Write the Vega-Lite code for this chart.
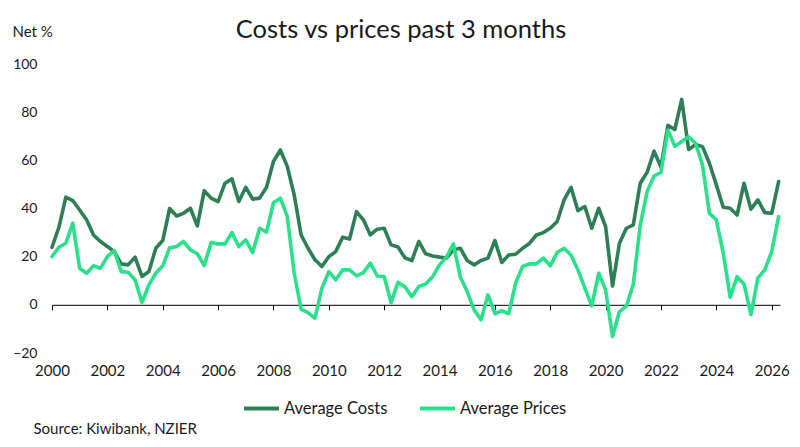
{
  "$schema": "https://vega.github.io/schema/vega-lite/v6.json",
  "width": 728,
  "height": 289,
  "autosize": {"type": "none"},
  "padding": {"left": 52, "top": 64, "right": 20, "bottom": 94},
  "background": "white",
  "config": {"view": {"stroke": null}, "font": "Lato", "axis": {"grid": false}},
  "title": {"text": "Costs vs prices past 3 months", "fontSize": 25.5, "fontWeight": "normal", "color": "#1a1a1a", "anchor": "middle", "dx": -15, "dy": 41, "offset": 22, "font": "Lato"},
  "data": {"values": [
    {"t": 2000.00, "Average Costs": 23.9, "Average Prices": 20.0},
    {"t": 2000.25, "Average Costs": 32.2, "Average Prices": 23.9},
    {"t": 2000.50, "Average Costs": 44.7, "Average Prices": 25.6},
    {"t": 2000.75, "Average Costs": 43.3, "Average Prices": 33.9},
    {"t": 2001.00, "Average Costs": 39.4, "Average Prices": 15.2},
    {"t": 2001.25, "Average Costs": 35.3, "Average Prices": 13.1},
    {"t": 2001.50, "Average Costs": 29.0, "Average Prices": 16.2},
    {"t": 2001.75, "Average Costs": 26.3, "Average Prices": 15.2},
    {"t": 2002.00, "Average Costs": 24.2, "Average Prices": 20.0},
    {"t": 2002.25, "Average Costs": 22.1, "Average Prices": 22.5},
    {"t": 2002.50, "Average Costs": 17.0, "Average Prices": 13.8},
    {"t": 2002.75, "Average Costs": 16.6, "Average Prices": 13.5},
    {"t": 2003.00, "Average Costs": 19.8, "Average Prices": 10.4},
    {"t": 2003.25, "Average Costs": 11.8, "Average Prices": 1.0},
    {"t": 2003.50, "Average Costs": 13.8, "Average Prices": 8.3},
    {"t": 2003.75, "Average Costs": 23.5, "Average Prices": 13.1},
    {"t": 2004.00, "Average Costs": 26.7, "Average Prices": 16.2},
    {"t": 2004.25, "Average Costs": 40.0, "Average Prices": 23.7},
    {"t": 2004.50, "Average Costs": 36.9, "Average Prices": 24.2},
    {"t": 2004.75, "Average Costs": 38.0, "Average Prices": 26.3},
    {"t": 2005.00, "Average Costs": 40.1, "Average Prices": 22.8},
    {"t": 2005.25, "Average Costs": 32.8, "Average Prices": 21.2},
    {"t": 2005.50, "Average Costs": 47.4, "Average Prices": 16.3},
    {"t": 2005.75, "Average Costs": 44.3, "Average Prices": 25.9},
    {"t": 2006.00, "Average Costs": 42.9, "Average Prices": 25.3},
    {"t": 2006.25, "Average Costs": 50.5, "Average Prices": 25.3},
    {"t": 2006.50, "Average Costs": 52.3, "Average Prices": 30.0},
    {"t": 2006.75, "Average Costs": 42.9, "Average Prices": 24.2},
    {"t": 2007.00, "Average Costs": 48.8, "Average Prices": 27.0},
    {"t": 2007.25, "Average Costs": 43.9, "Average Prices": 21.7},
    {"t": 2007.50, "Average Costs": 44.3, "Average Prices": 31.8},
    {"t": 2007.75, "Average Costs": 48.8, "Average Prices": 30.2},
    {"t": 2008.00, "Average Costs": 59.5, "Average Prices": 42.4},
    {"t": 2008.25, "Average Costs": 64.3, "Average Prices": 44.3},
    {"t": 2008.50, "Average Costs": 57.5, "Average Prices": 36.6},
    {"t": 2008.75, "Average Costs": 45.6, "Average Prices": 13.1},
    {"t": 2009.00, "Average Costs": 29.0, "Average Prices": -1.8},
    {"t": 2009.25, "Average Costs": 23.5, "Average Prices": -3.2},
    {"t": 2009.50, "Average Costs": 18.7, "Average Prices": -5.5},
    {"t": 2009.75, "Average Costs": 15.9, "Average Prices": 6.9},
    {"t": 2010.00, "Average Costs": 20.0, "Average Prices": 13.8},
    {"t": 2010.25, "Average Costs": 22.1, "Average Prices": 10.4},
    {"t": 2010.50, "Average Costs": 28.1, "Average Prices": 14.5},
    {"t": 2010.75, "Average Costs": 27.3, "Average Prices": 14.5},
    {"t": 2011.00, "Average Costs": 38.7, "Average Prices": 12.0},
    {"t": 2011.25, "Average Costs": 35.3, "Average Prices": 13.4},
    {"t": 2011.50, "Average Costs": 29.0, "Average Prices": 17.3},
    {"t": 2011.75, "Average Costs": 31.4, "Average Prices": 12.0},
    {"t": 2012.00, "Average Costs": 31.8, "Average Prices": 11.7},
    {"t": 2012.25, "Average Costs": 24.9, "Average Prices": 1.0},
    {"t": 2012.50, "Average Costs": 24.0, "Average Prices": 9.3},
    {"t": 2012.75, "Average Costs": 19.5, "Average Prices": 7.5},
    {"t": 2013.00, "Average Costs": 18.4, "Average Prices": 3.4},
    {"t": 2013.25, "Average Costs": 26.3, "Average Prices": 7.6},
    {"t": 2013.50, "Average Costs": 21.2, "Average Prices": 8.7},
    {"t": 2013.75, "Average Costs": 20.3, "Average Prices": 11.7},
    {"t": 2014.00, "Average Costs": 19.8, "Average Prices": 16.6},
    {"t": 2014.25, "Average Costs": 19.4, "Average Prices": 19.8},
    {"t": 2014.50, "Average Costs": 22.8, "Average Prices": 25.3},
    {"t": 2014.75, "Average Costs": 23.5, "Average Prices": 11.7},
    {"t": 2015.00, "Average Costs": 18.4, "Average Prices": 5.5},
    {"t": 2015.25, "Average Costs": 16.6, "Average Prices": -2.1},
    {"t": 2015.50, "Average Costs": 18.4, "Average Prices": -6.2},
    {"t": 2015.75, "Average Costs": 19.4, "Average Prices": 4.1},
    {"t": 2016.00, "Average Costs": 26.7, "Average Prices": -3.7},
    {"t": 2016.25, "Average Costs": 17.6, "Average Prices": -2.4},
    {"t": 2016.50, "Average Costs": 20.7, "Average Prices": -3.7},
    {"t": 2016.75, "Average Costs": 21.0, "Average Prices": 9.0},
    {"t": 2017.00, "Average Costs": 23.5, "Average Prices": 15.9},
    {"t": 2017.25, "Average Costs": 25.5, "Average Prices": 17.0},
    {"t": 2017.50, "Average Costs": 29.0, "Average Prices": 17.0},
    {"t": 2017.75, "Average Costs": 30.0, "Average Prices": 19.4},
    {"t": 2018.00, "Average Costs": 31.8, "Average Prices": 16.2},
    {"t": 2018.25, "Average Costs": 34.6, "Average Prices": 21.7},
    {"t": 2018.50, "Average Costs": 43.6, "Average Prices": 23.5},
    {"t": 2018.75, "Average Costs": 48.8, "Average Prices": 20.7},
    {"t": 2019.00, "Average Costs": 39.1, "Average Prices": 14.5},
    {"t": 2019.25, "Average Costs": 40.8, "Average Prices": 6.9},
    {"t": 2019.50, "Average Costs": 31.8, "Average Prices": -0.4},
    {"t": 2019.75, "Average Costs": 40.1, "Average Prices": 13.1},
    {"t": 2020.00, "Average Costs": 32.5, "Average Prices": 6.2},
    {"t": 2020.25, "Average Costs": 7.8, "Average Prices": -13.1},
    {"t": 2020.50, "Average Costs": 25.6, "Average Prices": -2.8},
    {"t": 2020.75, "Average Costs": 31.8, "Average Prices": -0.5},
    {"t": 2021.00, "Average Costs": 33.2, "Average Prices": 8.5},
    {"t": 2021.25, "Average Costs": 50.5, "Average Prices": 33.0},
    {"t": 2021.50, "Average Costs": 55.0, "Average Prices": 47.0},
    {"t": 2021.75, "Average Costs": 63.8, "Average Prices": 53.5},
    {"t": 2022.00, "Average Costs": 57.2, "Average Prices": 55.0},
    {"t": 2022.25, "Average Costs": 74.5, "Average Prices": 72.6},
    {"t": 2022.50, "Average Costs": 72.8, "Average Prices": 65.8},
    {"t": 2022.75, "Average Costs": 85.3, "Average Prices": 67.8},
    {"t": 2023.00, "Average Costs": 64.5, "Average Prices": 69.8},
    {"t": 2023.25, "Average Costs": 66.6, "Average Prices": 67.1},
    {"t": 2023.50, "Average Costs": 65.7, "Average Prices": 58.1},
    {"t": 2023.75, "Average Costs": 58.8, "Average Prices": 38.0},
    {"t": 2024.00, "Average Costs": 49.8, "Average Prices": 35.3},
    {"t": 2024.25, "Average Costs": 40.5, "Average Prices": 21.5},
    {"t": 2024.50, "Average Costs": 40.1, "Average Prices": 3.2},
    {"t": 2024.75, "Average Costs": 37.3, "Average Prices": 11.7},
    {"t": 2025.00, "Average Costs": 50.5, "Average Prices": 8.7},
    {"t": 2025.25, "Average Costs": 39.7, "Average Prices": -4.1},
    {"t": 2025.50, "Average Costs": 43.6, "Average Prices": 11.1},
    {"t": 2025.75, "Average Costs": 38.3, "Average Prices": 14.5},
    {"t": 2026.00, "Average Costs": 38.0, "Average Prices": 22.1},
    {"t": 2026.25, "Average Costs": 51.2, "Average Prices": 36.6}
  ]},
  "transform": [{"fold": ["Average Costs", "Average Prices"], "as": ["series", "value"]}],
  "mark": {"type": "line", "strokeWidth": 3.6, "strokeJoin": "round", "strokeCap": "round"},
  "encoding": {
    "x": {
      "field": "t", "type": "quantitative",
      "scale": {"domain": [2000, 2026.3], "nice": false, "zero": false},
      "axis": {
        "values": [2000, 2002, 2004, 2006, 2008, 2010, 2012, 2014, 2016, 2018, 2020, 2022, 2024, 2026],
        "format": "d",
        "offset": -48.2,
        "tickSize": 5,
        "tickColor": "#000000",
        "domainColor": "#000000",
        "labelPadding": 61,
        "labelBaseline": "middle",
        "labelFontSize": 15,
        "labelColor": "#1a1a1a",
        "labelFlush": false,
        "title": "Source: Kiwibank, NZIER",
        "titleX": -19,
        "titleY": 124,
        "titleAlign": "left",
        "titleBaseline": "middle",
        "titleFontSize": 15,
        "titleFontWeight": "normal",
        "titleColor": "#1a1a1a"
      }
    },
    "y": {
      "field": "value", "type": "quantitative",
      "scale": {"domain": [-20, 100], "nice": false},
      "axis": {
        "values": [-20, 0, 20, 40, 60, 80, 100],
        "ticks": false,
        "domain": false,
        "labelPadding": 15,
        "labelFontSize": 14,
        "labelColor": "#1a1a1a",
        "title": "Net %",
        "titleAngle": 0,
        "titleAlign": "left",
        "titleX": -40,
        "titleY": -33,
        "titleBaseline": "middle",
        "titleFontSize": 15,
        "titleFontWeight": "normal",
        "titleColor": "#1a1a1a"
      }
    },
    "color": {
      "field": "series", "type": "nominal",
      "scale": {"domain": ["Average Costs", "Average Prices"], "range": ["#2E7F56", "#2AE08B"]},
      "legend": {
        "orient": "none",
        "legendX": 190,
        "legendY": 325,
        "direction": "horizontal",
        "title": null,
        "symbolType": "stroke",
        "symbolStrokeWidth": 4,
        "symbolSize": 1225,
        "labelFontSize": 16.5,
        "labelColor": "#1a1a1a",
        "labelOffset": 3,
        "columnPadding": 24
      }
    }
  }
}
